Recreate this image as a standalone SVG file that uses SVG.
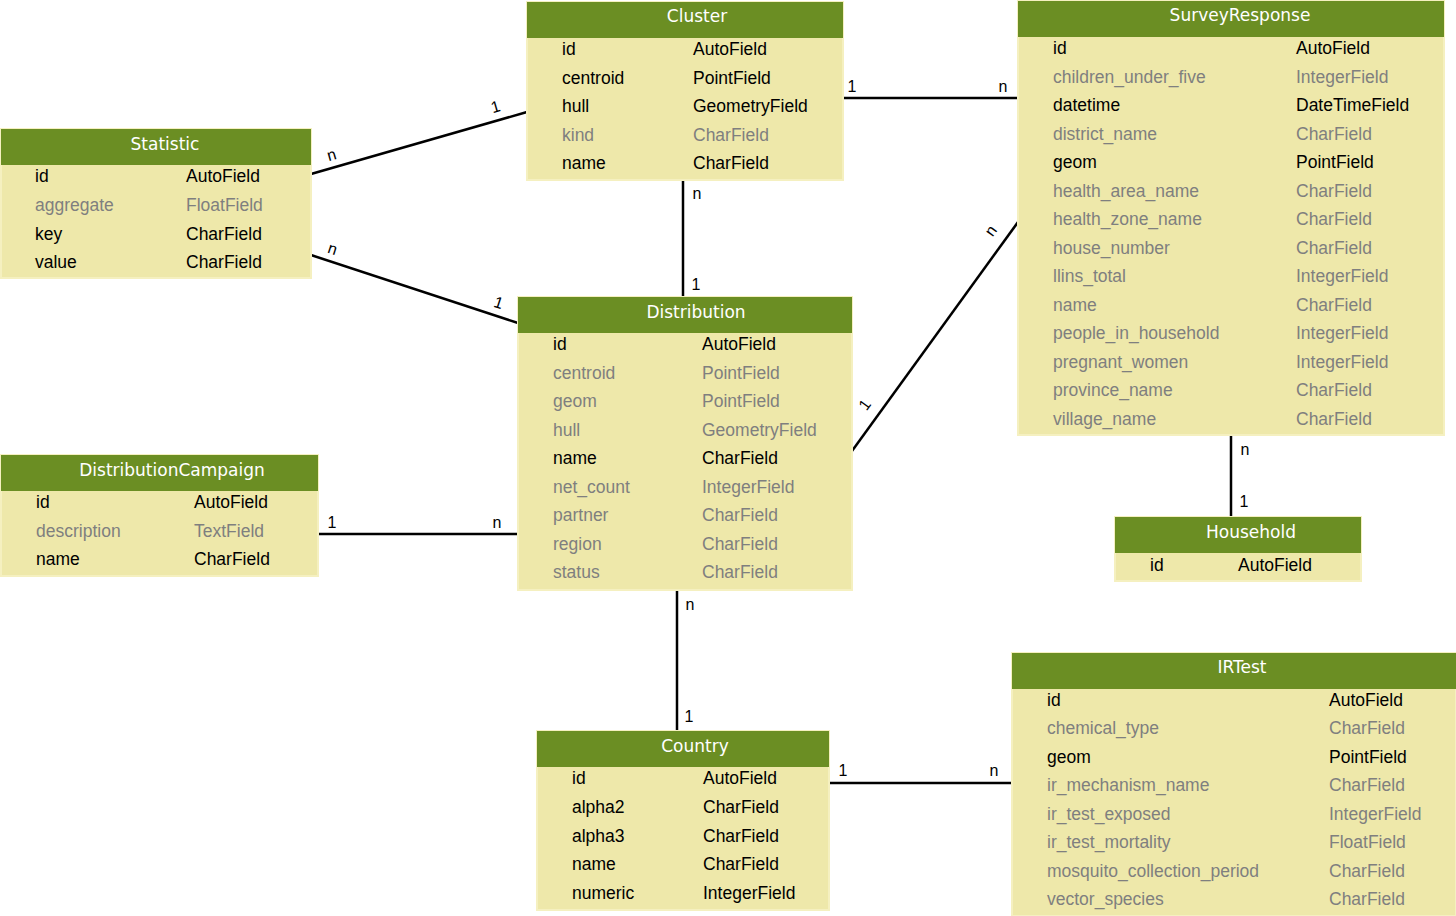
<svg xmlns="http://www.w3.org/2000/svg" width="1456" height="916" viewBox="0 0 1456 916">
<style>
.b{fill:#eee8aa;stroke:#f5f0c0;stroke-width:2}
.h{fill:#6b8e23}
.t{font-family:"DejaVu Sans",sans-serif;font-size:17px;fill:#fff;text-anchor:middle}
.f{font-family:"Liberation Sans",Arial,sans-serif;font-size:17.5px;fill:#000}
.g{fill:#7f7f7f}
.l{font-family:"Liberation Sans",Arial,sans-serif;font-size:16px;fill:#000;text-anchor:middle}
.c{stroke:#000;stroke-width:2.5;fill:none}
</style>
<rect width="1456" height="916" fill="#fff"/>
<g id="connectors">
<line class="c" x1="311" y1="174" x2="527" y2="112"/>
<line class="c" x1="311" y1="255" x2="518" y2="323"/>
<line class="c" x1="683" y1="181" x2="683" y2="297"/>
<line class="c" x1="843" y1="98" x2="1018" y2="98"/>
<line class="c" x1="852" y1="451" x2="1018" y2="222"/>
<line class="c" x1="318" y1="534" x2="518" y2="534"/>
<line class="c" x1="677" y1="590" x2="677" y2="731"/>
<line class="c" x1="1231" y1="435" x2="1231" y2="517"/>
<line class="c" x1="829" y1="783" x2="1012" y2="783"/>
<text class="l" transform="translate(333,160) rotate(-16)">n</text>
<text class="l" transform="translate(497,112) rotate(-16)">1</text>
<text class="l" transform="translate(331,254) rotate(18)">n</text>
<text class="l" transform="translate(497,308) rotate(18)">1</text>
<text class="l" x="697" y="199">n</text>
<text class="l" x="696" y="290">1</text>
<text class="l" x="852" y="92">1</text>
<text class="l" x="1003" y="92">n</text>
<text class="l" transform="translate(995,234) rotate(-54)">n</text>
<text class="l" transform="translate(869,408) rotate(-54)">1</text>
<text class="l" x="332" y="528">1</text>
<text class="l" x="497" y="528">n</text>
<text class="l" x="690" y="610">n</text>
<text class="l" x="689" y="722">1</text>
<text class="l" x="1245" y="455">n</text>
<text class="l" x="1244" y="507">1</text>
<text class="l" x="843" y="776">1</text>
<text class="l" x="994" y="776">n</text>
</g>
<g id="Cluster">
<rect class="b" x="527" y="2" width="316" height="178"/><rect class="h" x="527" y="2" width="316" height="36"/>
<text class="t" x="697" y="22">Cluster</text>
<text class="f" x="562" y="55">id</text><text class="f" x="693" y="55">AutoField</text>
<text class="f" x="562" y="84">centroid</text><text class="f" x="693" y="84">PointField</text>
<text class="f" x="562" y="112">hull</text><text class="f" x="693" y="112">GeometryField</text>
<text class="f g" x="562" y="141">kind</text><text class="f g" x="693" y="141">CharField</text>
<text class="f" x="562" y="169">name</text><text class="f" x="693" y="169">CharField</text>
</g>
<g id="Statistic">
<rect class="b" x="1" y="129" width="310" height="149"/><rect class="h" x="1" y="129" width="310" height="36"/>
<text class="t" x="165" y="150">Statistic</text>
<text class="f" x="35" y="182">id</text><text class="f" x="186" y="182">AutoField</text>
<text class="f g" x="35" y="211">aggregate</text><text class="f g" x="186" y="211">FloatField</text>
<text class="f" x="35" y="240">key</text><text class="f" x="186" y="240">CharField</text>
<text class="f" x="35" y="268">value</text><text class="f" x="186" y="268">CharField</text>
</g>
<g id="SurveyResponse">
<rect class="b" x="1018" y="1" width="426" height="434"/><rect class="h" x="1018" y="1" width="426" height="36"/>
<text class="t" x="1240" y="21">SurveyResponse</text>
<text class="f" x="1053" y="54">id</text><text class="f" x="1296" y="54">AutoField</text>
<text class="f g" x="1053" y="83">children_under_five</text><text class="f g" x="1296" y="83">IntegerField</text>
<text class="f" x="1053" y="111">datetime</text><text class="f" x="1296" y="111">DateTimeField</text>
<text class="f g" x="1053" y="140">district_name</text><text class="f g" x="1296" y="140">CharField</text>
<text class="f" x="1053" y="168">geom</text><text class="f" x="1296" y="168">PointField</text>
<text class="f g" x="1053" y="197">health_area_name</text><text class="f g" x="1296" y="197">CharField</text>
<text class="f g" x="1053" y="225">health_zone_name</text><text class="f g" x="1296" y="225">CharField</text>
<text class="f g" x="1053" y="254">house_number</text><text class="f g" x="1296" y="254">CharField</text>
<text class="f g" x="1053" y="282">llins_total</text><text class="f g" x="1296" y="282">IntegerField</text>
<text class="f g" x="1053" y="311">name</text><text class="f g" x="1296" y="311">CharField</text>
<text class="f g" x="1053" y="339">people_in_household</text><text class="f g" x="1296" y="339">IntegerField</text>
<text class="f g" x="1053" y="368">pregnant_women</text><text class="f g" x="1296" y="368">IntegerField</text>
<text class="f g" x="1053" y="396">province_name</text><text class="f g" x="1296" y="396">CharField</text>
<text class="f g" x="1053" y="425">village_name</text><text class="f g" x="1296" y="425">CharField</text>
</g>
<g id="Distribution">
<rect class="b" x="518" y="297" width="334" height="293"/><rect class="h" x="518" y="297" width="334" height="36"/>
<text class="t" x="696" y="318">Distribution</text>
<text class="f" x="553" y="350">id</text><text class="f" x="702" y="350">AutoField</text>
<text class="f g" x="553" y="379">centroid</text><text class="f g" x="702" y="379">PointField</text>
<text class="f g" x="553" y="407">geom</text><text class="f g" x="702" y="407">PointField</text>
<text class="f g" x="553" y="436">hull</text><text class="f g" x="702" y="436">GeometryField</text>
<text class="f" x="553" y="464">name</text><text class="f" x="702" y="464">CharField</text>
<text class="f g" x="553" y="493">net_count</text><text class="f g" x="702" y="493">IntegerField</text>
<text class="f g" x="553" y="521">partner</text><text class="f g" x="702" y="521">CharField</text>
<text class="f g" x="553" y="550">region</text><text class="f g" x="702" y="550">CharField</text>
<text class="f g" x="553" y="578">status</text><text class="f g" x="702" y="578">CharField</text>
</g>
<g id="DistributionCampaign">
<rect class="b" x="1" y="455" width="317" height="121"/><rect class="h" x="1" y="455" width="317" height="36"/>
<text class="t" x="172" y="476">DistributionCampaign</text>
<text class="f" x="36" y="508">id</text><text class="f" x="194" y="508">AutoField</text>
<text class="f g" x="36" y="537">description</text><text class="f g" x="194" y="537">TextField</text>
<text class="f" x="36" y="565">name</text><text class="f" x="194" y="565">CharField</text>
</g>
<g id="Household">
<rect class="b" x="1115" y="517" width="246" height="64"/><rect class="h" x="1115" y="517" width="246" height="36"/>
<text class="t" x="1251" y="538">Household</text>
<text class="f" x="1150" y="571">id</text><text class="f" x="1238" y="571">AutoField</text>
</g>
<g id="Country">
<rect class="b" x="537" y="731" width="292" height="179"/><rect class="h" x="537" y="731" width="292" height="36"/>
<text class="t" x="695" y="752">Country</text>
<text class="f" x="572" y="784">id</text><text class="f" x="703" y="784">AutoField</text>
<text class="f" x="572" y="813">alpha2</text><text class="f" x="703" y="813">CharField</text>
<text class="f" x="572" y="842">alpha3</text><text class="f" x="703" y="842">CharField</text>
<text class="f" x="572" y="870">name</text><text class="f" x="703" y="870">CharField</text>
<text class="f" x="572" y="899">numeric</text><text class="f" x="703" y="899">IntegerField</text>
</g>
<g id="IRTest">
<rect class="b" x="1012" y="653" width="444" height="263"/><rect class="h" x="1012" y="653" width="444" height="36"/>
<text class="t" x="1242" y="673">IRTest</text>
<text class="f" x="1047" y="706">id</text><text class="f" x="1329" y="706">AutoField</text>
<text class="f g" x="1047" y="734">chemical_type</text><text class="f g" x="1329" y="734">CharField</text>
<text class="f" x="1047" y="763">geom</text><text class="f" x="1329" y="763">PointField</text>
<text class="f g" x="1047" y="791">ir_mechanism_name</text><text class="f g" x="1329" y="791">CharField</text>
<text class="f g" x="1047" y="820">ir_test_exposed</text><text class="f g" x="1329" y="820">IntegerField</text>
<text class="f g" x="1047" y="848">ir_test_mortality</text><text class="f g" x="1329" y="848">FloatField</text>
<text class="f g" x="1047" y="877">mosquito_collection_period</text><text class="f g" x="1329" y="877">CharField</text>
<text class="f g" x="1047" y="905">vector_species</text><text class="f g" x="1329" y="905">CharField</text>
</g>
</svg>
